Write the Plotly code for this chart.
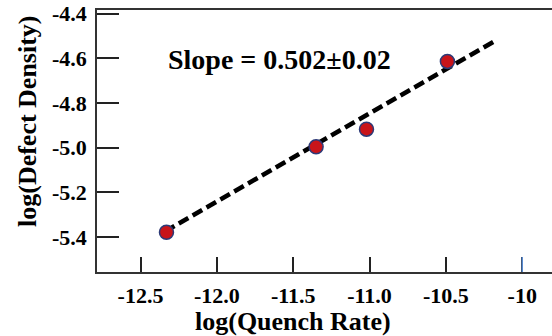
import plotly.graph_objects as go

# data
quench_rate = [-12.33, -11.35, -11.02, -10.49]
defect_density = [-5.378, -4.996, -4.917, -4.614]
fit_x = [-12.34, -10.19]
fit_y = [-5.375, -4.527]
x_ticks = [-12.5, -12.0, -11.5, -11.0, -10.5, -10.0]
x_tick_labels = ["-12.5", "-12.0", "-11.5", "-11.0", "-10.5", "-10"]
y_ticks = [-4.4, -4.6, -4.8, -5.0, -5.2, -5.4]
y_tick_labels = ["-4.4", "-4.6", "-4.8", "-5.0", "-5.2", "-5.4"]
slope_text = "Slope = 0.502\u00b10.02"
x_title = "log(Quench Rate)"
y_title = "log(Defect Density)"

FONT = "Liberation Serif"


def bold(s):
    return "<b>" + s + "</b>"


fig = go.Figure()
fig.add_trace(go.Scatter(
    x=fit_x, y=fit_y, mode="lines",
    line=dict(color="black", width=4.5, dash="11px,5px"),
    hoverinfo="skip", showlegend=False))
fig.add_trace(go.Scatter(
    x=quench_rate, y=defect_density, mode="markers",
    marker=dict(size=14, color="#c8141a", line=dict(color="#2c3a78", width=1.5)),
    showlegend=False))

fig.update_layout(
    width=552, height=336,
    margin=dict(l=97, r=0, t=10, b=64),
    paper_bgcolor="white", plot_bgcolor="white",
    font=dict(family=FONT, color="black"),
    xaxis=dict(
        range=[-12.785, -9.805], tickvals=x_ticks, ticktext=[bold(t) for t in x_tick_labels],
        ticks="inside", ticklen=15, tickwidth=1.5, tickcolor="#222",
        showline=True, linecolor="#333", linewidth=1.5, mirror=True,
        showgrid=False, zeroline=False,
        tickfont=dict(family=FONT, size=22, color="black", weight="bold"),
        ticklabelstandoff=3,
    ),
    yaxis=dict(
        range=[-5.556, -4.384], tickvals=y_ticks, ticktext=[bold(t) for t in y_tick_labels],
        ticks="inside", ticklen=22, tickwidth=1.5, tickcolor="#222",
        showline=True, linecolor="#333", linewidth=1.5,
        showgrid=False, zeroline=False,
        tickfont=dict(family=FONT, size=22, color="black", weight="bold"),
        ticklabelstandoff=4,
    ),
    annotations=[
        dict(text=bold(slope_text), xref="paper", yref="paper",
             x=(279 - 97) / 455, y=1 - (60 - 10) / 262, xanchor="center", yanchor="middle",
             showarrow=False, font=dict(family=FONT, size=28, color="black")),
        dict(text=bold(x_title), xref="paper", yref="paper",
             x=(293 - 97) / 455, y=-(321 - 272) / 262, xanchor="center", yanchor="middle",
             showarrow=False, font=dict(family=FONT, size=26, color="black")),
        dict(text=bold(y_title), xref="paper", yref="paper", textangle=-90,
             x=-(97 - 27) / 455, y=1 - (121 - 10) / 262, xanchor="center", yanchor="middle",
             showarrow=False, font=dict(family=FONT, size=26, color="black")),
    ],
    shapes=[
        dict(type="line", xref="x", yref="paper", x0=x_ticks[-1], x1=x_ticks[-1],
             y0=0, y1=15 / 262, line=dict(color="#5b8fd8", width=1.5)),
    ],
)

fig.write_html("out.html", config={"displayModeBar": False},
               post_script="document.body.style.margin='0px';")
